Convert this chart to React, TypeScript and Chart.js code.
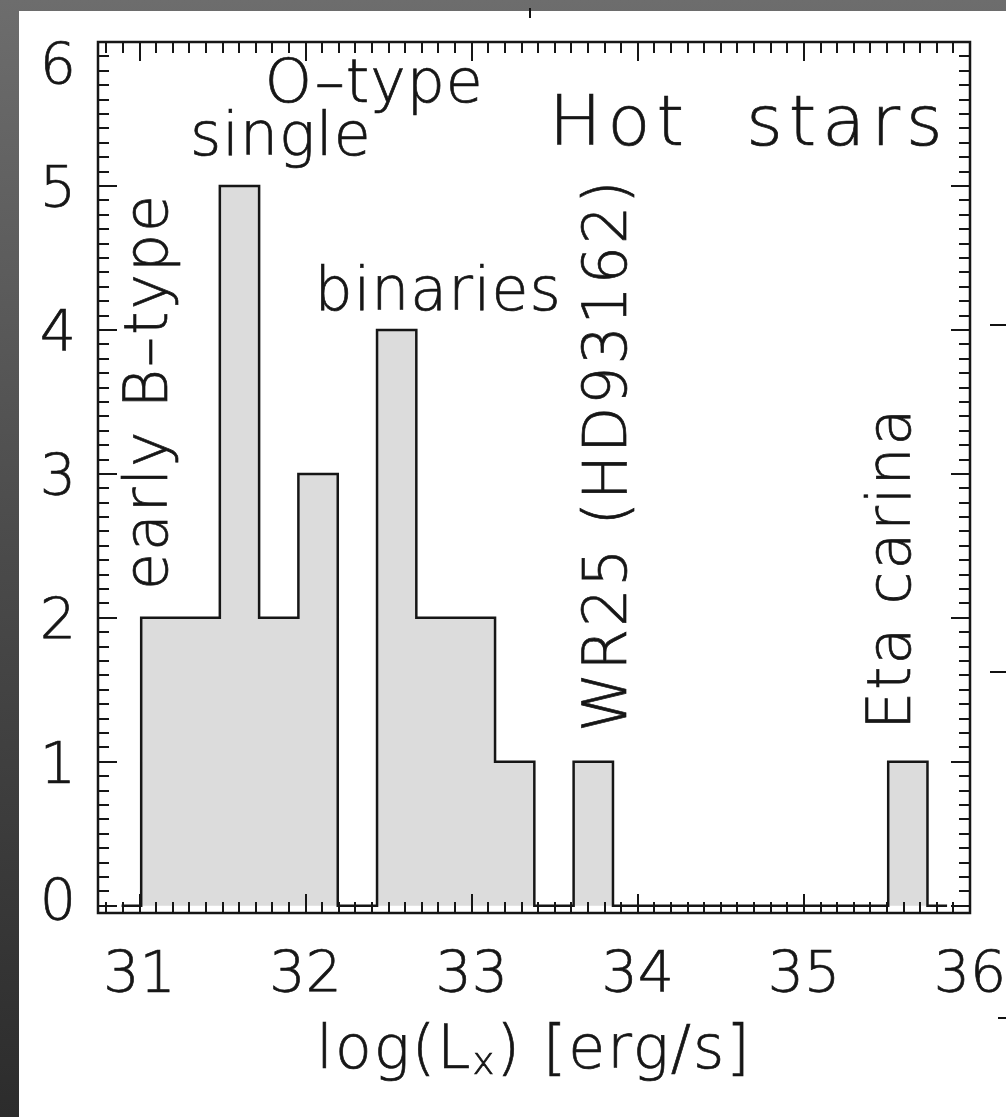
import React, { useEffect, useRef } from "react";
import { Chart, registerables } from "chart.js";

Chart.register(...registerables);

// ---- data (histogram of log Lx for hot stars) ----
// bin centres (first and last entries are the empty padding bins of the step outline)
const binCenters = [
  30.892, 31.128, 31.365, 31.602, 31.838, 32.075, 32.312, 32.548, 32.785, 33.022,
  33.259, 33.495, 33.732, 33.969, 34.205, 34.442, 34.679, 34.915, 35.152, 35.389,
  35.626, 35.862,
];
const counts = [0, 2, 2, 5, 2, 3, 0, 4, 2, 2, 1, 0, 1, 0, 0, 0, 0, 0, 0, 0, 1, 0];

const xMajorTicks = [31, 32, 33, 34, 35, 36];
const yMajorTicks = [0, 1, 2, 3, 4, 5, 6];
const minorStep = 0.1;

const xRange = { min: 30.75, max: 36 };
const yRange = { min: -0.05, max: 6 };

const xTitle = { pre: "log(L", sub: "x", post: ") [erg/s]" };

// labels placed in data coordinates
const annotations = [
  { text: "Hot  stars", x: 35.87, y: 5.285, align: "right", rotate: false, big: true },
  { text: "O\u2013type", x: 31.754, y: 5.583, align: "left", rotate: false, big: false },
  { text: "single", x: 31.304, y: 5.215, align: "left", rotate: false, big: false },
  { text: "binaries", x: 32.054, y: 4.139, align: "left", rotate: false, big: false },
  { text: "early B\u2013type", x: 31.166, y: 2.194, align: "left", rotate: true, big: false },
  { text: "WR25 (HD93162)", x: 33.926, y: 1.208, align: "left", rotate: true, big: false },
  { text: "Eta carina", x: 35.641, y: 1.222, align: "left", rotate: true, big: false },
];

const FONT = "'DejaVu Sans', 'Noto Sans', sans-serif";
const WEIGHT = 200;
const INK = "#161616";
const STROKE_W = 0.7;

const framePlugin = {
  id: "idlFrame",
  afterDatasetsDraw(chart: any) {
    const { ctx, chartArea: a, scales } = chart;
    const x = scales.x;
    const y = scales.y;
    ctx.save();
    ctx.strokeStyle = INK;
    ctx.lineWidth = 2;
    ctx.lineCap = "butt";
    const majLen = 19;
    const minLen = 11;
    const xi0 = Math.ceil(x.min / minorStep - 1e-6);
    const xi1 = Math.floor(x.max / minorStep + 1e-6);
    ctx.beginPath();
    for (let i = xi0; i <= xi1; i++) {
      const v = i * minorStep;
      const major = xMajorTicks.some((m) => Math.abs(m - v) < 1e-6);
      const len = major ? majLen : minLen;
      const px = Math.round(x.getPixelForValue(v));
      ctx.moveTo(px, a.bottom);
      ctx.lineTo(px, a.bottom - len);
      ctx.moveTo(px, a.top);
      ctx.lineTo(px, a.top + len);
    }
    const yi0 = Math.ceil(y.min / minorStep - 1e-6);
    const yi1 = Math.floor(y.max / minorStep + 1e-6);
    for (let i = yi0; i <= yi1; i++) {
      const v = i * minorStep;
      const major = yMajorTicks.some((m) => Math.abs(m - v) < 1e-6);
      const len = major ? majLen : minLen;
      const py = Math.round(y.getPixelForValue(v));
      ctx.moveTo(a.left, py);
      ctx.lineTo(a.left + len, py);
      ctx.moveTo(a.right, py);
      ctx.lineTo(a.right - len, py);
    }
    ctx.stroke();
    ctx.lineWidth = 2.5;
    ctx.strokeRect(a.left, a.top, a.right - a.left, a.bottom - a.top);
    ctx.restore();
  },
  afterDraw(chart: any) {
    const { ctx, chartArea: a, scales } = chart;
    const x = scales.x;
    const y = scales.y;
    ctx.save();
    ctx.fillStyle = INK;
    ctx.strokeStyle = INK;
    ctx.lineWidth = STROKE_W;
    const txt = (s: string, px: number, py: number) => {
      ctx.fillText(s, px, py);
      ctx.strokeText(s, px, py);
    };
    // y tick labels (kept inside the frame height)
    ctx.font = `${WEIGHT} 57px ${FONT}`;
    ctx.textAlign = "right";
    ctx.textBaseline = "alphabetic";
    const capH = 57 * 0.729;
    for (const v of yMajorTicks) {
      let py = y.getPixelForValue(v);
      py = Math.max(py, a.top + capH / 2);
      py = Math.min(py, a.bottom - capH / 2 + 7);
      txt(String(v), a.left - 22, py + capH / 2);
    }
    // annotations
    for (const t of annotations) {
      const px = x.getPixelForValue(t.x);
      const py = y.getPixelForValue(t.y);
      ctx.save();
      ctx.translate(px, py);
      if (t.rotate) ctx.rotate(-Math.PI / 2);
      const size = t.big ? 70 : 60;
      ctx.font = `${WEIGHT} ${size}px ${FONT}`;
      (ctx as any).letterSpacing = t.big ? "6px" : t.rotate ? "2px" : "1px";
      ctx.textAlign = t.align as CanvasTextAlign;
      ctx.textBaseline = "alphabetic";
      txt(t.text, 0, 0);
      ctx.restore();
    }
    // x axis title with subscript
    const base = a.bottom + 155;
    const mainF = `${WEIGHT} 60px ${FONT}`;
    const subF = `${WEIGHT} 37px ${FONT}`;
    (ctx as any).letterSpacing = "2px";
    ctx.font = mainF;
    const w1 = ctx.measureText(xTitle.pre).width;
    const w3 = ctx.measureText(xTitle.post).width;
    ctx.font = subF;
    const w2 = ctx.measureText(xTitle.sub).width;
    const cx = (a.left + a.right) / 2;
    let sx = cx - (w1 + w2 + w3) / 2;
    ctx.textAlign = "left";
    ctx.font = mainF;
    txt(xTitle.pre, sx, base);
    sx += w1;
    ctx.font = subF;
    txt(xTitle.sub, sx, base + 6);
    sx += w2;
    ctx.font = mainF;
    txt(xTitle.post, sx, base);
    ctx.restore();
  },
};

export default function App() {
  const canvasRef = useRef<HTMLCanvasElement | null>(null);

  useEffect(() => {
    const canvas = canvasRef.current;
    if (!canvas) return;
    const chart = new Chart(canvas, {
      type: "line",
      data: {
        datasets: [
          {
            data: binCenters.map((c, i) => ({ x: c, y: counts[i] })),
            stepped: "middle",
            borderColor: INK,
            borderWidth: 2.5,
            backgroundColor: "#dcdcdc",
            fill: "origin",
            pointRadius: 0,
            tension: 0,
          },
        ],
      },
      options: {
        animation: false,
        responsive: true,
        maintainAspectRatio: false,
        layout: { padding: { left: 0, right: 36, top: 42, bottom: 0 } },
        plugins: { legend: { display: false }, tooltip: { enabled: false } },
        scales: {
          x: {
            type: "linear",
            min: xRange.min,
            max: xRange.max,
            grid: { display: false, drawTicks: false },
            border: { display: false },
            afterBuildTicks: (s: any) => {
              s.ticks = xMajorTicks.map((v) => ({ value: v }));
            },
            ticks: {
              color: INK,
              textStrokeColor: INK,
              textStrokeWidth: STROKE_W,
              font: { family: FONT, size: 57, weight: WEIGHT as any },
              padding: 30,
              maxRotation: 0,
              autoSkip: false,
              callback: (v: any) => String(v),
            },
            afterFit: (s: any) => {
              s.height = 204;
              s.paddingLeft = 0;
              s.paddingRight = 0;
            },
          },
          y: {
            type: "linear",
            min: yRange.min,
            max: yRange.max,
            grid: { display: false, drawTicks: false },
            border: { display: false },
            ticks: { display: false },
            afterBuildTicks: (s: any) => {
              s.ticks = yMajorTicks.map((v) => ({ value: v }));
            },
            afterFit: (s: any) => {
              s.width = 98;
              s.paddingTop = 0;
              s.paddingBottom = 0;
            },
          },
        },
      },
      plugins: [framePlugin],
    });
    return () => chart.destroy();
  }, []);

  const mark = (l: number, t: number, w: number, h: number) => (
    <div style={{ position: "absolute", left: l, top: t, width: w, height: h, background: "#111" }} />
  );

  return (
    <div
      style={{
        position: "absolute",
        left: 0,
        top: 0,
        width: 1006,
        height: 1117,
        overflow: "hidden",
        background: "linear-gradient(to bottom, #6d6d6d 0%, #4a4a4a 50%, #2c2c2c 100%)",
      }}
    >
      <div
        style={{ position: "absolute", left: 19, top: 11, right: 0, bottom: 0, background: "#ffffff" }}
      />
      {mark(529, 8, 2, 10)}
      {mark(990, 324, 16, 2)}
      {mark(990, 671, 16, 2)}
      {mark(998, 1017, 8, 2)}
      <div style={{ position: "absolute", left: 0, top: 0, width: 1006, height: 1117 }}>
        <canvas ref={canvasRef} />
      </div>
    </div>
  );
}
